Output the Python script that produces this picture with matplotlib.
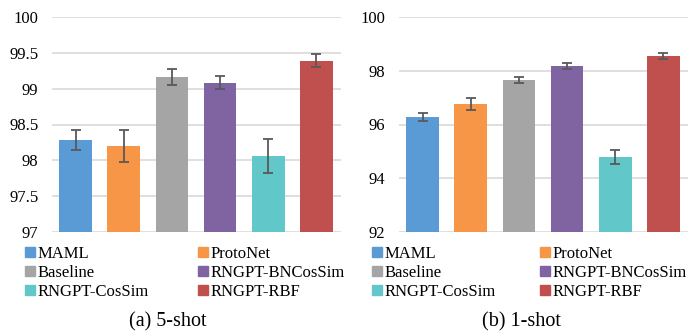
import matplotlib.pyplot as plt
from matplotlib.patches import Patch
import numpy as np

plt.rcParams['font.family'] = ['Liberation Serif', 'DejaVu Serif']

methods = ['MAML', 'ProtoNet', 'Baseline', 'RNGPT-BNCosSim', 'RNGPT-CosSim', 'RNGPT-RBF']
colors = ['#5B9BD5', '#F79646', '#A5A5A5', '#8064A2', '#61C7C9', '#C0504D']

acc_5shot = [98.28, 98.20, 99.16, 99.08, 98.06, 99.39]
err_5shot = [0.14, 0.23, 0.11, 0.09, 0.24, 0.09]
acc_1shot = [96.28, 96.76, 97.66, 98.18, 94.79, 98.55]
err_1shot = [0.16, 0.23, 0.12, 0.10, 0.25, 0.10]

fig = plt.figure(figsize=(6.89, 3.34), dpi=100)
ax1 = fig.add_axes([51.5/689, 1-232/334, 289/689, 215/334])
ax2 = fig.add_axes([398.5/689, 1-232/334, 289/689, 215/334])

def draw(ax, vals, errs, ylim, ticks, ticklabels):
    x = np.arange(len(methods))
    ax.set_axisbelow(True)
    ax.yaxis.grid(True, color='#D9D9D9', linewidth=1.2)
    ax.bar(x, np.array(vals) - ylim[0], bottom=ylim[0], width=0.68, color=colors,
           yerr=errs, error_kw=dict(ecolor='#595959', elinewidth=1.3, capsize=3.5, capthick=1.3))
    ax.set_ylim(ylim)
    ax.set_xlim(-0.5, len(methods) - 0.5)
    ax.set_yticks(ticks)
    ax.set_yticklabels(ticklabels, fontsize=12)
    ax.set_xticks([])
    ax.tick_params(axis='y', length=0, pad=9.5)
    for s in ax.spines.values():
        s.set_visible(False)

draw(ax1, acc_5shot, err_5shot, (97, 100), [97, 97.5, 98, 98.5, 99, 99.5, 100],
     ['97', '97.5', '98', '98.5', '99', '99.5', '100'])
draw(ax2, acc_1shot, err_1shot, (92, 100), [92, 94, 96, 98, 100],
     ['92', '94', '96', '98', '100'])

# legend columns: (x of square in pixels, indices of methods)
columns = [(25, [0, 2, 4]), (198, [1, 3, 5]), (372, [0, 2, 4]), (540, [1, 3, 5])]
for xpix, idx in columns:
    handles = [Patch(color=colors[i], label=methods[i]) for i in idx]
    fig.legend(handles=handles, loc='upper left', bbox_to_anchor=(xpix/689, 1-246/334),
               ncol=1, frameon=False, fontsize=12, handlelength=0.6, handleheight=0.6,
               handletextpad=0.15, labelspacing=0.17, borderpad=0, borderaxespad=0)

fig.text(168/689, 1-322/334, '(a) 5-shot', ha='center', va='center', fontsize=14.5)
fig.text(521/689, 1-322/334, '(b) 1-shot', ha='center', va='center', fontsize=14.5)

fig.savefig('out.png', dpi=100)
